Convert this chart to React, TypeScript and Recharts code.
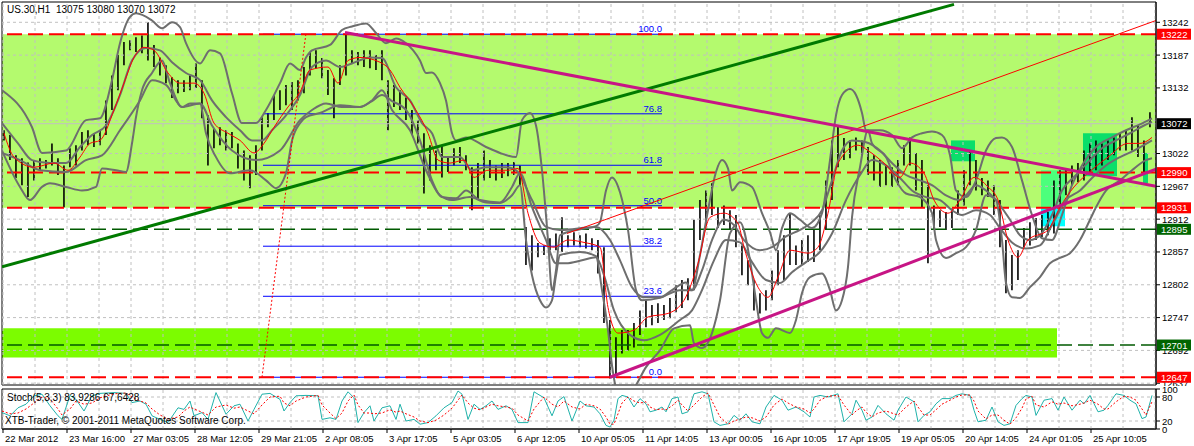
import React from 'react';
import { ComposedChart, Bar, Line, XAxis, YAxis, ReferenceLine, ReferenceArea } from 'recharts';

// ---- price bars (US.30 H1), one entry per 3 hourly bars ----
const highs = [
  13061,13053,13019,13014,13007,13011,13014,13011,13039,13014,
  13002,13031,13036,13058,13061,13056,13061,13111,13153,13187,
  13209,13212,13217,13220,13242,13204,13183,13170,13150,13145,
  13145,13153,13173,13145,13086,13064,13066,13061,13058,13039,
  13027,13019,13036,13083,13090,13120,13128,13137,13142,13145,
  13167,13192,13195,13182,13162,13148,13170,13225,13195,13192,
  13195,13195,13187,13195,13145,13137,13128,13116,13095,13078,
  13056,13036,13027,13036,13016,13031,13033,13019,12999,13006,
  13027,13011,13002,13006,13006,13008,13002,12899,12885,12872,
  12868,12880,12888,12915,12885,12890,12885,12888,12880,12877,
  12865,12743,12714,12726,12726,12738,12759,12776,12768,12771,
  12768,12780,12801,12810,12813,12911,12944,12960,12972,12932,
  12935,12927,12919,12868,12843,12810,12788,12793,12826,12860,
  12885,12922,12868,12877,12885,12894,12919,12977,13044,13069,
  13048,13044,13049,13044,13033,13019,13011,13002,12999,13011,
  13036,13049,13023,13011,12969,12935,12927,12924,12930,12960,
  12994,13027,13011,12981,12977,12969,12944,12877,12852,12860,
  12897,12907,12914,12919,12924,12977,12994,12997,13002,13006,
  13027,13039,13044,13039,13044,13049,13056,13061,13083,13069,
  13044,13091,
];
const lows = [
  13044,13011,12981,12969,12949,12977,12994,12997,13002,12986,
  12932,12999,13002,13027,13036,13033,13036,13053,13095,13128,
  13170,13195,13192,13190,13178,13167,13153,13140,13115,13123,
  13125,13128,13132,13081,13002,13031,13036,13027,13031,12997,
  12977,12964,12986,13027,13066,13078,13095,13103,13095,13111,
  13123,13153,13165,13148,13120,13081,13137,13153,13173,13170,
  13167,13165,13162,13145,13061,13100,13095,13078,13053,13039,
  12955,12977,12994,12982,12991,13002,13006,12994,12927,12944,
  12977,12981,12977,12981,12984,12986,12969,12835,12826,12848,
  12852,12860,12860,12857,12865,12868,12865,12863,12860,12821,
  12738,12645,12650,12687,12692,12697,12718,12731,12734,12738,
  12743,12746,12756,12763,12776,12793,12877,12902,12919,12897,
  12902,12894,12865,12818,12801,12759,12754,12759,12776,12801,
  12810,12835,12835,12835,12840,12840,12860,12894,12944,12999,
  13011,13014,13027,13019,12986,12977,12966,12969,12966,12969,
  13002,13002,12960,12932,12838,12894,12899,12894,12897,12919,
  12935,12969,12960,12952,12949,12919,12865,12788,12793,12810,
  12865,12868,12877,12882,12885,12888,12927,12952,12969,12974,
  12977,12986,12994,13002,13011,13019,13027,13027,13027,13016,
  12989,13066,
];

// ---- moving average [hour, value] ----
const movingAverage: [number, number][] = [
  [1,13056],[6,13016],[16,12999],[26,13006],[33,12994],[39,13016],[44,13039],[49,13044],[56,13095],[61,13140],
  [66,13183],[71,13200],[76,13195],[83,13157],[89,13140],[96,13140],[101,13123],[106,13073],[113,13056],[119,13044],
  [126,13023],[131,13039],[136,13066],[143,13100],[149,13125],[154,13162],[163,13167],[168,13140],[173,13178],[179,13183],
  [189,13175],[194,13162],[199,13133],[206,13100],[213,13056],[218,13011],[224,13006],[231,13011],[236,12982],[243,12994],
  [253,12994],[258,12997],[263,12922],[269,12872],[276,12865],[283,12877],[291,12873],[299,12865],[303,12764],[308,12721],
  [316,12726],[323,12748],[333,12754],[341,12776],[348,12838],[354,12915],[361,12922],[368,12905],[371,12865],[378,12798],
  [383,12781],[388,12815],[394,12860],[403,12855],[408,12865],[413,12922],[418,13006],[428,13036],[433,13027],[441,13006],
  [449,12982],[454,13006],[461,12989],[466,12944],[473,12922],[479,12944],[486,12982],[493,12966],[498,12944],[503,12877],
  [508,12848],[513,12877],[523,12894],[529,12932],[536,12966],[543,12989],[553,13016],[563,13039],[569,13039],[573,13044],
  [575,13049],
];

// ---- band lines (grey) [hour, value] ----
const bandOuterUpper: [number, number][] = [
  [0,13128],[15,13066],[20,13023],[32,13027],[42,13078],[49,13081],[55,13145],[59,13207],[64,13251],[67,13257],
  [75,13245],[80,13232],[85,13242],[89,13234],[92,13207],[99,13173],[104,13195],[109,13190],[115,13123],[120,13073],
  [127,13073],[132,13095],[139,13140],[144,13173],[149,13162],[152,13183],[155,13195],[164,13204],[170,13229],[175,13235],
  [182,13240],[187,13224],[192,13207],[197,13215],[202,13207],[209,13178],[212,13157],[215,13158],[219,13140],[222,13111],
  [225,13056],[227,13044],[232,13049],[242,13033],[249,13023],[257,13016],[260,13078],[264,13090],[267,13069],[270,12994],
  [273,12877],[275,12793],[277,12826],[279,12885],[289,12895],[297,12900],[299,12907],[302,12960],[305,12982],[309,12957],
  [313,12894],[317,12793],[320,12776],[329,12780],[339,12793],[345,12793],[349,12852],[353,12927],[357,12991],[360,13011],
  [363,12997],[365,12960],[369,12974],[375,12966],[380,12922],[384,12890],[387,12860],[390,12897],[394,12922],[399,12911],
  [405,12897],[410,12922],[414,13011],[417,13086],[420,13120],[424,13130],[427,13120],[430,13090],[432,13061],[439,13061],
  [445,13053],[450,13031],[455,13049],[460,13056],[465,13059],[470,13053],[474,13019],[477,12960],[482,12949],[487,12977],
  [492,13027],[497,13048],[500,13049],[505,13033],[510,12977],[515,12919],[520,12880],[525,12877],[530,12919],[535,12969],
  [540,13002],[547,13033],[555,13049],[562,13061],[569,13071],[575,13081],
];
const bandInnerUpper: [number, number][] = [
  [0,13073],[8,13039],[15,13011],[24,13006],[32,13006],[39,13033],[45,13053],[52,13069],[59,13120],[65,13178],
  [72,13199],[79,13195],[85,13175],[92,13157],[99,13145],[105,13111],[112,13083],[119,13061],[125,13044],[130,13044],
  [135,13061],[142,13086],[149,13120],[155,13167],[162,13178],[169,13167],[175,13173],[184,13183],[190,13182],[197,13133],
  [204,13111],[210,13073],[215,13056],[220,13016],[229,13016],[235,12994],[242,12999],[252,12999],[257,12994],[265,12944],
  [272,12899],[279,12894],[297,12899],[304,12877],[309,12843],[315,12798],[321,12781],[329,12781],[335,12793],[342,12806],
  [345,12793],[350,12826],[355,12877],[361,12911],[366,12902],[371,12877],[379,12860],[385,12865],[392,12883],[399,12894],
  [405,12907],[410,12927],[415,12977],[420,13027],[425,13044],[432,13041],[439,13027],[445,13006],[452,12986],[459,12977],
  [465,12969],[472,12952],[479,12944],[482,12952],[487,12969],[492,12960],[497,12944],[504,12911],[509,12885],[514,12877],
  [519,12885],[525,12919],[530,12960],[537,12986],[544,13011],[550,13031],[557,13044],[564,13056],[571,13069],[575,13075],
];
const bandInnerLower: [number, number][] = [
  [0,13023],[9,13011],[19,12994],[32,12991],[42,13011],[50,13019],[59,13061],[69,13111],[75,13145],[82,13137],
  [90,13100],[99,13106],[105,13069],[115,13027],[127,13011],[139,13027],[149,13078],[155,13095],[162,13106],[170,13100],
  [179,13100],[185,13110],[190,13120],[195,13110],[202,13095],[209,13044],[215,12977],[220,12949],[227,12947],[232,12960],
  [239,12944],[249,12940],[255,12966],[259,12989],[265,12932],[272,12877],[277,12838],[282,12838],[290,12843],[297,12848],
  [301,12818],[306,12759],[314,12718],[321,12709],[329,12718],[339,12743],[345,12759],[350,12793],[356,12843],[362,12877],
  [369,12873],[375,12840],[382,12810],[389,12805],[395,12823],[402,12840],[409,12857],[415,12888],[422,12944],[429,12986],
  [435,13011],[442,13002],[449,12981],[455,12960],[462,12949],[469,12944],[475,12927],[480,12919],[487,12927],[494,12919],
  [499,12897],[505,12873],[512,12863],[519,12868],[525,12902],[532,12944],[539,12960],[545,12981],[552,13002],[559,13016],
  [566,13027],[575,13044],
];
const bandOuterLower: [number, number][] = [
  [0,13027],[9,12966],[14,12944],[20,12966],[24,12972],[32,12966],[40,12960],[47,12966],[50,12997],[57,12994],
  [62,12991],[65,13039],[67,13083],[70,13128],[75,13157],[80,13178],[84,13140],[90,13100],[94,13106],[99,13106],
  [102,13056],[107,13016],[114,12989],[124,12994],[132,12977],[137,12964],[142,12989],[145,13044],[149,13073],[152,13083],
  [159,13090],[169,13103],[179,13100],[185,13111],[190,13128],[195,13095],[204,13061],[212,12994],[219,12952],[225,12944],
  [234,12949],[242,12940],[249,12939],[255,12952],[259,12969],[262,12877],[265,12818],[269,12776],[272,12764],[275,12776],
  [277,12818],[279,12852],[289,12857],[297,12850],[300,12793],[303,12726],[305,12667],[307,12630],[309,12622],[314,12619],
  [317,12634],[322,12664],[329,12692],[336,12729],[344,12734],[346,12704],[350,12696],[355,12721],[359,12776],[364,12888],
  [369,12907],[374,12843],[377,12776],[380,12721],[383,12713],[387,12729],[394,12721],[397,12743],[400,12788],[404,12815],
  [410,12821],[414,12793],[417,12759],[420,12776],[423,12832],[425,12915],[429,12999],[433,13061],[435,13039],[442,13016],
  [447,12977],[452,12955],[459,12949],[465,12922],[467,12877],[472,12847],[477,12855],[482,12865],[487,12894],[492,12952],
  [497,12944],[500,12877],[502,12805],[505,12781],[509,12780],[514,12798],[519,12815],[524,12838],[529,12847],[534,12855],
  [539,12877],[544,12911],[547,12932],[552,12960],[559,12977],[565,12994],[572,13011],[575,13014],
];

// ---- trend lines [hour, value] ----
const greenTrend: [number, number][] = [[0,12832],[476,13272]];
const magentaFalling: [number, number][] = [[171.5,13225],[577,12967]];
const magentaRising: [number, number][] = [[304,12647],[577,12996]];
const redChannel: [number, number][] = [[282.5,12888],[577,13245]];
const fibBase: [number, number][] = [[130,12647],[152,13224]];

// ---- levels ----
const redLevels = [13222, 12990, 12931, 12647];
const greenLevels = [12895, 12701];
const lastPrice = 13072;
const fibLow = 12647;
const fibHigh = 13222;
const fibRatios = [0, 23.6, 38.2, 50, 61.8, 76.8, 100];
const fibLabels = ['0.0', '23.6', '38.2', '50.0', '61.8', '76.8', '100.0'];
const fibStartHour = 130.5;
const fibEndHour = 330;
const priceGrid = [12637,12692,12747,12802,12857,12912,12967,13022,13077,13132,13187,13242];
const priceTicks = [12637,12692,12747,12802,12857,12912,12967,13022,13132,13187,13242];
const markedPrices = [12647, 12701, 12895, 12931, 12990, 13222, 13072];

// ---- zones ----
const resistanceZone = { from: 0, to: 577, low: 12931, high: 13222 };
const supportZone = { from: 0, to: 527.5, low: 12680, high: 12729 };
const boxA = { from: 474.5, to: 486.5, low: 13009, high: 13044 };
const boxB = { from: 519.5, to: 531.5, low: 12932, high: 12994 };
const boxBLow = { from: 519.5, to: 531.5, low: 12900, high: 12932 };
const boxC = { from: 540.5, to: 557.5, low: 12984, high: 13056 };
const boxD = { from: 570.5, to: 573, low: 12972, high: 13023 };

// ---- stochastic (5,3,3) ----
const stochHours = [
  0,4,8,12,16,20,24,28,30,34,37,41,45,49,56,62,65,69,72,75,79,83,88,91,94,96,100,103,107,112,
  116,119,123,126,130,134,139,141,144,147,152,158,160,164,167,170,173,176,178,181,184,186,190,194,197,199,202,206,209,213,
  217,221,225,228,230,233,236,239,242,245,248,252,255,258,263,266,271,275,278,281,285,289,292,
  296,299,302,304,306,308,310,313,316,319,322,324,327,330,332,335,338,340,343,346,350,353,356,359,363,366,369,372,375,379,
  382,386,390,393,397,401,404,406,409,413,418,421,425,427,430,432,435,438,442,446,448,452,456,458,461,464,467,470,474,477,
  480,484,486,488,492,495,498,501,504,507,510,512,515,517,521,525,528,531,535,539,541,544,548,551,553,557,561,564,567,570,
  572,575,
];
const stochMain = [
  41,33,53,62,83,87,58,33,24,84,74,45,83,89,91,89,66,70,62,33,24,16,53,49,70,33,41,24,91,37,
  58,62,20,49,87,89,74,45,66,83,84,83,24,28,24,70,93,78,16,41,58,20,53,58,24,62,20,24,12,16,
  33,53,66,95,87,24,62,49,58,70,49,58,49,16,16,93,78,33,70,81,20,70,58,
  55,38,9,5,22,76,84,80,55,76,63,43,47,55,43,76,80,38,43,88,93,88,18,9,13,34,22,38,18,13,
  55,84,72,47,55,43,30,80,84,80,88,18,38,72,47,22,30,59,38,22,47,80,68,18,34,43,63,76,76,84,
  88,84,47,18,22,55,18,9,13,59,76,84,80,34,72,76,47,80,47,72,63,84,43,47,59,88,84,72,63,26,
  30,84,
];
const stochSignal = [
  45,38,40,50,65,80,75,50,35,50,70,62,65,78,88,90,80,70,65,50,35,25,30,45,55,50,42,35,55,60,
  52,55,45,38,60,80,82,65,58,70,80,84,60,40,26,40,70,85,60,40,40,38,40,48,42,45,38,30,20,16,
  22,35,52,72,85,65,52,48,55,62,58,55,52,35,20,50,80,62,55,70,55,50,62,
  58,50,30,12,12,38,65,80,70,65,68,55,48,50,48,58,72,60,45,60,80,90,60,30,12,20,25,30,28,20,
  30,60,75,65,55,50,40,50,72,82,84,60,35,45,55,42,30,40,45,38,35,55,70,55,35,35,48,62,72,80,
  85,85,70,45,25,35,35,22,12,28,52,75,82,60,55,68,62,65,58,62,65,72,62,50,50,68,82,80,72,50,
  35,68,
];
const stochLevels = [80, 20];

const dateLabels = [
  '22 Mar 2012','23 Mar 16:00','27 Mar 03:05','28 Mar 12:05','29 Mar 21:05','2 Apr 08:05',
  '3 Apr 17:05','5 Apr 03:05','6 Apr 12:05','10 Apr 05:05','11 Apr 14:05','13 Apr 00:05',
  '16 Apr 10:05','17 Apr 19:05','19 Apr 05:05','20 Apr 14:05','24 Apr 01:05','25 Apr 10:05',
];

// ---- derived tables ----
const HOURS = 577;
const dateTicks = dateLabels.map((_, i) => 0.5 + i * 32);
const gridHours = Array.from({ length: 37 }, (_, i) => 0.5 + i * 16);
const barData = highs.map((hi, i) => ({ h: i * 3 + 1, range: [lows[i], hi] }));
const pts = (arr: [number, number][]) => arr.map(([h, v]) => ({ h, v }));
const stochData = stochHours.map((h, i) => ({ h, main: stochMain[i], signal: stochSignal[i] }));
const labelFor: Record<string, string> = {};
dateTicks.forEach((t, i) => { labelFor[String(t)] = dateLabels[i]; });

const FONT = 'Liberation Sans, Arial, sans-serif';
const GRID = '#c0c0c0';
const BAND = '#6e6e6e';
const markColor: Record<number, string> = {
  13222: '#ff0000', 12990: '#ff0000', 12931: '#ff0000', 12647: '#ff0000',
  12895: '#006400', 12701: '#006400', 13072: '#000000',
};

const PriceTick = (props: any) => {
  const { x, y, payload } = props;
  const v = payload.value;
  const bg = markColor[v];
  if (bg) {
    return (
      <g>
        <rect x={x + 1} y={y - 5.5} width={34} height={11} fill={bg} />
        <text x={x + 5} y={y + 3.5} fill="#fff" fontSize={9.5} fontFamily={FONT}>{v}</text>
      </g>
    );
  }
  return (
    <g>
      <line x1={x} x2={x + 4} y1={y} y2={y} stroke="#000" />
      <text x={x + 6} y={y + 3.5} fill="#000" fontSize={9.5} fontFamily={FONT}>{v}</text>
    </g>
  );
};

const StochTick = (props: any) => {
  const { x, y, payload } = props;
  return (
    <g>
      <line x1={x} x2={x + 4} y1={y} y2={y} stroke="#000" />
      <text x={x + 6} y={y + 3.5} fill="#000" fontSize={9.5} fontFamily={FONT}>{payload.value}</text>
    </g>
  );
};

const DateTick = (props: any) => {
  const { x, y, payload } = props;
  return (
    <g>
      <line x1={x} x2={x} y1={y} y2={y + 4} stroke="#000" />
      <text x={x + 2} y={y + 13} fill="#000" fontSize={9.5} fontFamily={FONT}>{labelFor[String(payload.value)]}</text>
    </g>
  );
};

const PriceBar = (props: any) => {
  const { x, y, width, height } = props;
  if (x == null || y == null) return null;
  const cx = x + width / 2;
  return <line x1={cx} x2={cx} y1={y} y2={y + height} stroke="#000" strokeWidth={1.6} />;
};

const fibLabel = (txt: string) => (p: any) => {
  const vb = p && p.viewBox;
  if (!vb) return null;
  return (
    <text x={vb.x + (vb.width || 0)} y={vb.y - 2} textAnchor="end" fill="#0000ff" fontSize={9.5} fontFamily={FONT}>{txt}</text>
  );
};

const zone = (z: { from: number; to: number; low: number; high: number }, color: string, key: string) => (
  <ReferenceArea key={key} x1={z.from} x2={z.to} y1={z.low} y2={z.high} fill={color} fillOpacity={1} stroke="none" ifOverflow="extendDomain" />
);

export default function App() {
  const yMin = 12634;
  const yMax = 13276;
  return (
    <div style={{ position: 'absolute', left: 0, top: 0, width: 1194, height: 446, background: '#fff', fontFamily: FONT }}>
      <div style={{ position: 'absolute', left: 0, top: 0 }}>
        <ComposedChart width={1194} height={386} data={barData} margin={{ top: 2, right: 0, bottom: 1, left: 2 }}>
          <XAxis type="number" dataKey="h" domain={[0, HOURS]} hide allowDataOverflow />
          <YAxis
            orientation="right"
            width={38}
            domain={[yMin, yMax]}
            ticks={[...priceTicks, ...markedPrices]}
            interval={0}
            allowDataOverflow
            tickLine={false}
            tickSize={0}
            tickMargin={0}
            axisLine={{ stroke: '#000' }}
            tick={<PriceTick />}
          />
          {zone(resistanceZone, '#b4fa6e', 'zr')}
          {zone(supportZone, '#7cfc00', 'zs')}
          {zone(boxA, '#0ade6a', 'ba')}
          {zone(boxB, '#4cff7c', 'bb')}
          {zone(boxBLow, '#00ffff', 'bbl')}
          {zone(boxC, '#0ade6a', 'bc')}
          {zone(boxD, '#0ade6a', 'bd')}
          {gridHours.map((h) => (
            <ReferenceLine key={'vg' + h} x={h} stroke={GRID} strokeDasharray="3 3" />
          ))}
          {priceGrid.map((v) => (
            <ReferenceLine key={'hg' + v} y={v} stroke={GRID} strokeDasharray="3 3" />
          ))}
          <ReferenceLine y={lastPrice} stroke="#c0c0c0" />
          {fibRatios.map((r, i) => (
            <ReferenceLine
              key={'fib' + r}
              segment={[{ x: fibStartHour, y: fibLow + (r / 100) * (fibHigh - fibLow) }, { x: fibEndHour, y: fibLow + (r / 100) * (fibHigh - fibLow) }]}
              stroke="#0000ff"
              strokeWidth={1}
              label={fibLabel(fibLabels[i])}
            />
          ))}
          {redLevels.map((v) => (
            <ReferenceLine key={'rl' + v} y={v} stroke="#ff0000" strokeWidth={2} strokeDasharray="15 6" />
          ))}
          {greenLevels.map((v) => (
            <ReferenceLine key={'gl' + v} y={v} stroke="#005a00" strokeWidth={1.5} strokeDasharray="15 6" />
          ))}
          <Line data={pts(bandOuterUpper)} dataKey="v" type="monotone" stroke={BAND} strokeWidth={2} dot={false} isAnimationActive={false} />
          <Line data={pts(bandInnerUpper)} dataKey="v" type="monotone" stroke={BAND} strokeWidth={2} dot={false} isAnimationActive={false} />
          <Line data={pts(bandInnerLower)} dataKey="v" type="monotone" stroke={BAND} strokeWidth={2} dot={false} isAnimationActive={false} />
          <Line data={pts(bandOuterLower)} dataKey="v" type="monotone" stroke={BAND} strokeWidth={2} dot={false} isAnimationActive={false} />
          <Bar dataKey="range" barSize={2} shape={<PriceBar />} isAnimationActive={false} />
          <Line data={pts(movingAverage)} dataKey="v" type="monotone" stroke="#ff0000" strokeWidth={1} dot={false} isAnimationActive={false} />
          <Line data={pts(fibBase)} dataKey="v" type="linear" stroke="#ff0000" strokeWidth={1} strokeDasharray="2 2" dot={false} isAnimationActive={false} />
          <Line data={pts(redChannel)} dataKey="v" type="linear" stroke="#ff0000" strokeWidth={1} dot={false} isAnimationActive={false} />
          <Line data={pts(greenTrend)} dataKey="v" type="linear" stroke="#007a00" strokeWidth={3} dot={false} isAnimationActive={false} />
          <Line data={pts(magentaFalling)} dataKey="v" type="linear" stroke="#c71585" strokeWidth={3} dot={false} isAnimationActive={false} />
          <Line data={pts(magentaRising)} dataKey="v" type="linear" stroke="#c71585" strokeWidth={3} dot={false} isAnimationActive={false} />
          <ReferenceArea x1={0} x2={HOURS} y1={yMin} y2={yMax} fill="none" stroke="#000" strokeWidth={1} />
        </ComposedChart>
      </div>
      <div style={{ position: 'absolute', left: 0, top: 386 }}>
        <ComposedChart width={1194} height={60} data={stochData} margin={{ top: 3, right: 0, bottom: 0, left: 2 }}>
          <XAxis
            type="number"
            dataKey="h"
            domain={[0, HOURS]}
            ticks={dateTicks}
            interval={0}
            allowDataOverflow
            height={17}
            tickLine={false}
            tickSize={0}
            tickMargin={0}
            axisLine={{ stroke: '#000' }}
            tick={<DateTick />}
          />
          <YAxis
            orientation="right"
            width={38}
            domain={[0, 100]}
            ticks={[100, 80, 20, 0]}
            interval={0}
            allowDataOverflow
            tickLine={false}
            tickSize={0}
            tickMargin={0}
            axisLine={{ stroke: '#000' }}
            tick={<StochTick />}
          />
          {gridHours.map((h) => (
            <ReferenceLine key={'svg' + h} x={h} stroke={GRID} strokeDasharray="3 3" />
          ))}
          {stochLevels.map((v) => (
            <ReferenceLine key={'sl' + v} y={v} stroke={GRID} strokeDasharray="3 3" />
          ))}
          <Line dataKey="main" type="linear" stroke="#20b2aa" strokeWidth={1} dot={false} isAnimationActive={false} />
          <Line dataKey="signal" type="linear" stroke="#ff0000" strokeWidth={1} strokeDasharray="2 2" dot={false} isAnimationActive={false} />
          <ReferenceArea x1={0} x2={HOURS} y1={0} y2={100} fill="none" stroke="#000" strokeWidth={1} />
        </ComposedChart>
      </div>
      <div style={{ position: 'absolute', left: 7, top: 4, fontSize: 10, lineHeight: '12px', color: '#000', whiteSpace: 'pre' }}>
        {'US.30,H1  13075 13080 13070 13072'}
      </div>
      <div style={{ position: 'absolute', left: 7, top: 392, fontSize: 10, lineHeight: '12px', color: '#000', whiteSpace: 'pre' }}>
        {'Stoch(5,3,3) 83,9286 67,6428'}
      </div>
      <div style={{ position: 'absolute', left: 5, top: 415, fontSize: 10, lineHeight: '12px', color: '#000', whiteSpace: 'pre' }}>
        {'XTB-Trader, © 2001-2011 MetaQuotes Software Corp.'}
      </div>
    </div>
  );
}
